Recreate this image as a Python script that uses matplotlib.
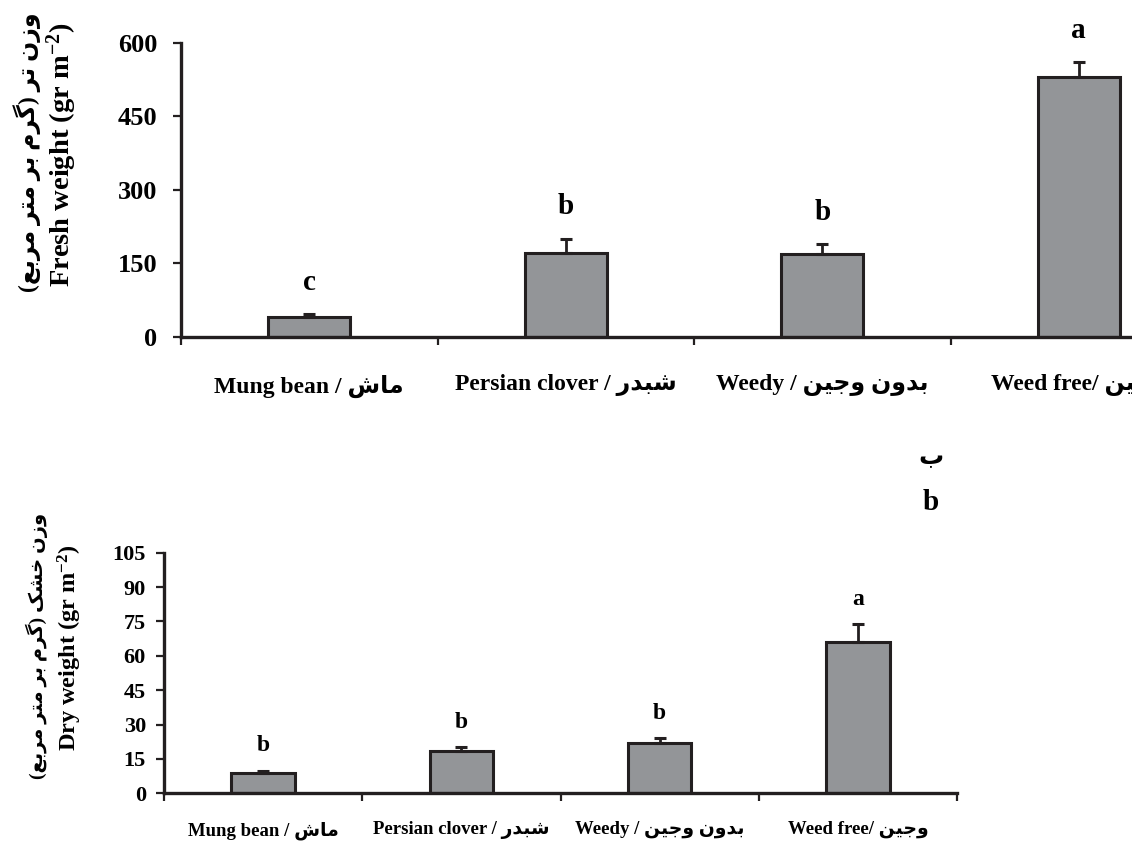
import matplotlib
matplotlib.use('Agg')
import matplotlib.pyplot as plt

# treatments and measured means with standard errors (upper bars only)
treatments = ['Mung bean', 'Persian clover', 'Weedy', 'Weed free']
treatments_fa = ['ماش', 'شبدر', 'بدون وجین', 'وجین']
separators = [' / ', ' / ', ' / ', '/ ']

fresh_weight = [40, 171, 169, 531]
fresh_se = [6, 29, 20, 29]
fresh_letters = ['c', 'b', 'b', 'a']
fresh_ticks = [0, 150, 300, 450, 600]

dry_weight = [8.7, 18.6, 21.8, 66.2]
dry_se = [1.2, 1.5, 2.2, 7.6]
dry_letters = ['b', 'b', 'b', 'a']
dry_ticks = [0, 15, 30, 45, 60, 75, 90, 105]

fresh_label_fa = 'وزن تر (گرم بر متر مربع)'
dry_label_fa = 'وزن خشک (گرم بر متر مربع)'

BAR_COLOR = '#939598'
INK = '#231f20'

# contextual forms: isolated, final, initial, medial
FORMS = {
    'ا': ('\uFE8D', '\uFE8E', None, None),
    'ب': ('\uFE8F', '\uFE90', '\uFE91', '\uFE92'),
    'ت': ('\uFE95', '\uFE96', '\uFE97', '\uFE98'),
    'ج': ('\uFE9D', '\uFE9E', '\uFE9F', '\uFEA0'),
    'خ': ('\uFEA5', '\uFEA6', '\uFEA7', '\uFEA8'),
    'د': ('\uFEA9', '\uFEAA', None, None),
    'ر': ('\uFEAD', '\uFEAE', None, None),
    'ز': ('\uFEAF', '\uFEB0', None, None),
    'ش': ('\uFEB5', '\uFEB6', '\uFEB7', '\uFEB8'),
    'ع': ('\uFEC9', '\uFECA', '\uFECB', '\uFECC'),
    'م': ('\uFEE1', '\uFEE2', '\uFEE3', '\uFEE4'),
    'ن': ('\uFEE5', '\uFEE6', '\uFEE7', '\uFEE8'),
    'و': ('\uFEED', '\uFEEE', None, None),
    'ی': ('\uFBFC', '\uFBFD', '\uFBFE', '\uFBFF'),
    'گ': ('\uFB92', '\uFB93', '\uFB94', '\uFB95'),
    'ک': ('\uFB8E', '\uFB8F', '\uFB90', '\uFB91'),
}
RIGHT_JOINING = set('ادرزو')


def fa(text):
    # shape Persian letters and put them in visual (left-to-right) order
    out = []
    for i, ch in enumerate(text):
        if ch not in FORMS:
            out.append(ch)
            continue
        prev = text[i - 1] if i > 0 else None
        nxt = text[i + 1] if i + 1 < len(text) else None
        join_prev = prev in FORMS and prev not in RIGHT_JOINING
        join_next = nxt in FORMS and ch not in RIGHT_JOINING
        iso, fin, ini, med = FORMS[ch]
        if join_prev and join_next:
            out.append(med)
        elif join_prev:
            out.append(fin)
        elif join_next:
            out.append(ini)
        else:
            out.append(iso)
    mirror = {'(': ')', ')': '('}
    return ''.join(mirror.get(c, c) for c in reversed(out))


plt.rcParams['font.family'] = ['Liberation Serif', 'DejaVu Sans']
plt.rcParams['font.weight'] = 'bold'
plt.rcParams['mathtext.fontset'] = 'custom'
plt.rcParams['mathtext.rm'] = 'Liberation Serif:bold'
plt.rcParams['mathtext.default'] = 'rm'

W, H = 1132, 846
fig = plt.figure(figsize=(W / 100, H / 100), dpi=100)


def panel(rect, values, errors, letters, ticks, tick_size, tick_pad, label_size,
          letter_size, letter_offset, label_pad):
    ax = fig.add_axes(rect)
    x = list(range(len(values)))
    ax.bar(x, values, width=0.32, color=BAR_COLOR, edgecolor=INK, linewidth=2.2, zorder=2)
    ax.errorbar(x, values, yerr=[[0] * len(values), errors], fmt='none', ecolor=INK,
                elinewidth=2, capsize=4, capthick=2.2, zorder=3)
    for xi, v, e, letter in zip(x, values, errors, letters):
        ax.annotate(letter, (xi, v + e), xytext=(0, letter_offset), textcoords='offset points',
                    ha='center', va='center', fontsize=letter_size, fontweight='bold',
                    annotation_clip=False)
    ax.set_xlim(-0.5, len(values) - 0.5)
    ax.set_ylim(ticks[0], ticks[-1])
    ax.set_yticks(ticks)
    # group boundaries get the tick marks, group centres get the names
    ax.set_xticks([i - 0.5 for i in range(len(values) + 1)])
    ax.set_xticklabels([])
    ax.set_xticks(x, minor=True)
    labels = [en + sep + fa(p) for en, sep, p in zip(treatments, separators, treatments_fa)]
    ax.set_xticklabels(labels, minor=True, fontsize=label_size, fontweight='bold')
    ax.tick_params(axis='x', which='minor', length=0, pad=label_pad)
    ax.tick_params(axis='x', which='major', length=6, width=1.6, direction='out', color=INK)
    ax.tick_params(axis='y', length=6, width=1.6, direction='out', color=INK,
                   labelsize=tick_size, pad=tick_pad)
    for s in ['top', 'right']:
        ax.spines[s].set_visible(False)
    for s in ['left', 'bottom']:
        ax.spines[s].set_linewidth(2.4)
        ax.spines[s].set_color(INK)
    for lab in ax.get_yticklabels():
        lab.set_fontweight('bold')
    return ax


ax1 = panel([181 / W, 1 - 337 / H, (1207 - 181) / W, (337 - 42.7) / H],
            fresh_weight, fresh_se, fresh_letters, fresh_ticks,
            tick_size=19, tick_pad=11, label_size=17, letter_size=21, letter_offset=23,
            label_pad=27)
ax2 = panel([164 / W, 1 - 793.3 / H, (957 - 164) / W, (793.3 - 552.7) / H],
            dry_weight, dry_se, dry_letters, dry_ticks,
            tick_size=16, tick_pad=7, label_size=13.5, letter_size=17, letter_offset=18,
            label_pad=20)

# two-line axis titles: Persian outside, English inside
fig.text(27 / W, 1 - 152 / H, fa(fresh_label_fa), rotation=90, ha='center', va='center',
         fontsize=17, fontweight='bold')
fig.text(62 / W, 1 - 155 / H, 'Fresh weight (gr m$^{-2}$)', rotation=90, ha='center',
         va='center', fontsize=20.5, fontweight='bold')
fig.text(37 / W, 1 - 646 / H, fa(dry_label_fa), rotation=90, ha='center', va='center',
         fontsize=14, fontweight='bold')
fig.text(70 / W, 1 - 648 / H, 'Dry weight (gr m$^{-2}$)', rotation=90, ha='center',
         va='center', fontsize=17.5, fontweight='bold')

# panel marks
fig.text(931 / W, 1 - 458 / H, fa('ب'), ha='center', va='center', fontsize=18, fontweight='bold')
fig.text(931 / W, 1 - 502 / H, 'b', ha='center', va='center', fontsize=21, fontweight='bold')

fig.savefig('out.png', dpi=100)
